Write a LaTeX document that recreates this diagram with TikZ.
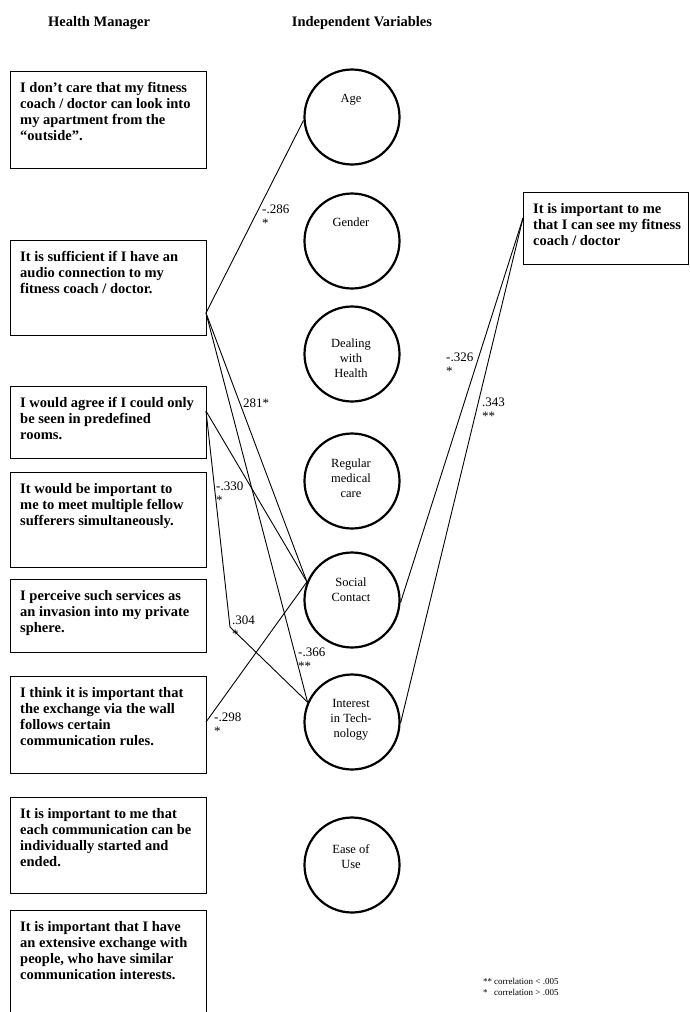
\documentclass[tikz,border=0pt]{standalone}
\usepackage{fontspec}
\setmainfont{Liberation Serif}
\begin{document}
\begin{tikzpicture}[x=1pt,y=-1pt,
  hbox/.style={draw=black, line width=1.1pt, rectangle, inner sep=0pt, anchor=north west},
  var/.style={draw=black, line width=2.2pt, circle, minimum size=95pt, inner sep=0pt},
  bt/.style={anchor=base west, inner sep=0pt, font=\bfseries\fontsize{14.5}{16}\selectfont},
  vt/.style={align=center, inner sep=0pt, font=\fontsize{12.5}{15}\selectfont},
  lab/.style={align=left, anchor=north west, inner sep=0pt, font=\fontsize{13}{14.5}\selectfont},
  conn/.style={draw=black, line width=0.9pt},
  head/.style={font=\bfseries\fontsize{14.5}{16}\selectfont, inner sep=0pt}]
\newcommand{\bxt}[1]{\parbox[t]{260pt}{\raggedright #1}}
\useasboundingbox (0,0) rectangle (689,1012);
\fill[white] (0,0) rectangle (689,1012);

% headings
\node[head] (h1) at (99,23) {Health Manager};
\node[head] (h2) at (362,23) {Independent Variables};

% left boxes
\node[hbox, minimum width=196pt, minimum height=97pt] (b1) at (10,71) {};
\node[hbox, minimum width=196pt, minimum height=95pt] (b2) at (10,240) {};
\node[hbox, minimum width=196pt, minimum height=72pt] (b3) at (10,386) {};
\node[hbox, minimum width=196pt, minimum height=95pt] (b4) at (10,472) {};
\node[hbox, minimum width=196pt, minimum height=73pt] (b5) at (10,579) {};
\node[hbox, minimum width=196pt, minimum height=97pt] (b6) at (10,676) {};
\node[hbox, minimum width=196pt, minimum height=96pt] (b7) at (10,797) {};
\node[hbox, minimum width=196pt, minimum height=112pt] (b8) at (10,910) {};
\node[hbox, minimum width=165pt, minimum height=72pt] (rb) at (523,192) {};

\node[bt] (t1) at (20,92.5) {\bxt{I don’t care that my fitness\\coach / doctor can look into\\my apartment from the\\“outside”.}};
\node[bt] (t2) at (20,261.5) {\bxt{It is sufficient if I have an\\audio connection to my\\fitness coach / doctor.}};
\node[bt] (t3) at (20,407.5) {\bxt{I would agree if I could only\\be seen in predefined\\rooms.}};
\node[bt] (t4) at (20,493.5) {\bxt{It would be important to\\me to meet multiple fellow\\sufferers simultaneously.}};
\node[bt] (t5) at (20,600.5) {\bxt{I perceive such services as\\an invasion into my private\\sphere.}};
\node[bt] (t6) at (20,697.5) {\bxt{I think it is important that\\the exchange via the wall\\follows certain\\communication rules.}};
\node[bt] (t7) at (20,818.5) {\bxt{It is important to me that\\each communication can be\\individually started and\\ended.}};
\node[bt] (t8) at (20,931.5) {\bxt{It is important that I have\\an extensive exchange with\\people, who have similar\\communication interests.}};
\node[bt] (tr) at (533,213.5) {\bxt{It is important to me\\that I can see my fitness\\coach / doctor}};

% variables
\node[var] (age) at (352,117) {};
\node[var] (gen) at (352,241) {};
\node[var] (dea) at (352,354) {};
\node[var] (reg) at (352,481) {};
\node[var] (soc) at (352,600) {};
\node[var] (int) at (352,722) {};
\node[var] (eas) at (352,865) {};

\node[vt] (vage) at (351,100) {Age};
\node[vt] (vgen) at (351,222) {Gender};
\node[vt] (vdea) at (351,358) {Dealing\\with\\Health};
\node[vt] (vreg) at (351,478) {Regular\\medical\\care};
\node[vt] (vsoc) at (351,590) {Social\\Contact};
\node[vt] (vint) at (351,720) {Interest\\in Tech-\\nology};
\node[vt] (veas) at (351,857) {Ease of\\Use};

% connection points
\coordinate (p2) at (206,313);
\coordinate (p3) at (206,411);
\coordinate (p6) at (206,722);
\coordinate (pr) at (523,218);
\coordinate (bend) at (230,627);

\draw[conn] (p2) -- (age.184);
\draw[conn] (p2) -- (soc.158);
\draw[conn] (p2) -- (int.156);
\draw[conn] (p3) -- (soc.158);
\draw[conn] (p3) -- (bend) -- (int.156);
\draw[conn] (p6) -- (soc.158);
\draw[conn] (pr) -- (soc.-3.5);
\draw[conn] (pr) -- (int.-1);

% labels
\node[lab] (l1) at (262,204.5) {-.286\\*};
\node[lab] (l2) at (243,398.5) {281*};
\node[lab] (l3) at (216,481.5) {-.330\\*};
\node[lab] (l4) at (232,615.5) {.304\\*};
\node[lab] (l5) at (298,647.5) {-.366\\**};
\node[lab] (l6) at (214,712.5) {-.298\\*};
\node[lab] (l7) at (446,352.5) {-.326\\*};
\node[lab] (l8) at (482,397.5) {.343\\**};

% legend
\node[anchor=west, align=left, inner sep=0pt, font=\fontsize{9}{11}\selectfont] (leg) at (483,986.5) {\makebox[11pt][l]{**}correlation < .005\\\makebox[11pt][l]{*}correlation > .005};
\end{tikzpicture}
\end{document}
